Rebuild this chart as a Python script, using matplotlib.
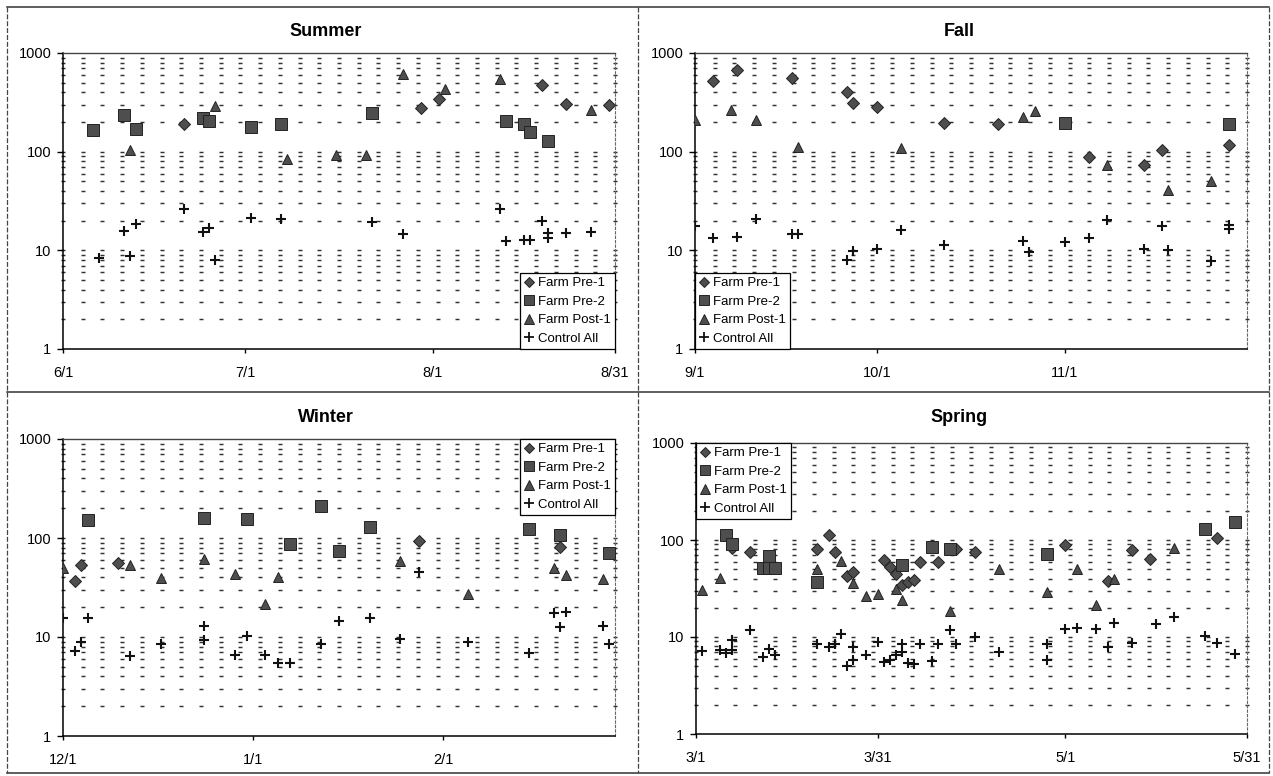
import numpy as np
import matplotlib
matplotlib.use('Agg')
import matplotlib.pyplot as plt
import matplotlib.dates as mdates
import matplotlib.ticker as ticker
from matplotlib.lines import Line2D
from datetime import date

plt.rcParams['font.family'] = ['Liberation Sans', 'DejaVu Sans']

SERIES = ['Farm Pre-1', 'Farm Pre-2', 'Farm Post-1', 'Control All']

# ---- Summer (6/1 - 8/31) ----
summer_pre1_dates = ['6/21', '8/2', '7/30', '8/19', '8/23', '8/30']
summer_pre1_vals = [192, 341, 277, 473, 302, 294]
summer_pre2_dates = ['6/6', '6/11', '6/13', '6/24', '6/25', '7/2', '7/7', '7/22',
                     '8/13', '8/16', '8/17', '8/20']
summer_pre2_vals = [167, 238, 171, 217, 203, 177, 189, 246, 204, 192, 159, 127]
summer_post1_dates = ['6/12', '6/26', '7/8', '7/16', '7/21', '7/27', '8/3', '8/12', '8/27']
summer_post1_vals = [103, 292, 84, 92, 92, 617, 431, 545, 262]
summer_ctrl_dates = ['6/7', '6/11', '6/12', '6/13', '6/21', '6/24', '6/25', '6/26', '7/2',
                     '7/7', '7/22', '7/27', '8/12', '8/13', '8/16', '8/17', '8/19', '8/20',
                     '8/20', '8/23', '8/27']
summer_ctrl_vals = [8.45, 15.8, 8.8, 18.4, 26.1, 15.3, 16.8, 8.07, 21.2,
                    20.7, 19.3, 14.7, 26.4, 12.4, 12.8, 12.8, 19.8, 14.9,
                    13.2, 14.9, 15.2]
summer_ticks = ['6/1', '7/1', '8/1', '8/31']

# ---- Fall (9/1 - 12/1) ----
fall_pre1_dates = ['9/4', '9/8', '9/17', '9/26', '9/27', '10/1', '10/12', '10/21',
                   '11/5', '11/14', '11/17', '11/28']
fall_pre1_vals = [523, 672, 561, 407, 310, 285, 193, 190, 88, 73, 105, 117]
fall_pre2_dates = ['11/1', '11/28']
fall_pre2_vals = [197, 191]
fall_post1_dates = ['9/1', '9/7', '9/11', '9/18', '10/5', '10/25', '10/27', '11/8',
                    '11/18', '11/25']
fall_post1_vals = [210, 263, 210, 111, 108, 225, 257, 74, 41, 50]
fall_ctrl_dates = ['9/1', '9/4', '9/8', '9/11', '9/17', '9/18', '9/26', '9/27', '10/1',
                   '10/5', '10/12', '10/25', '10/26', '11/1', '11/5', '11/8', '11/14',
                   '11/17', '11/18', '11/25', '11/28', '11/28']
fall_ctrl_vals = [17.5, 13.2, 13.7, 21.0, 14.5, 14.5, 8.0, 9.9, 10.4,
                  16.2, 11.4, 12.5, 9.7, 12.1, 13.2, 20.3, 10.4,
                  17.5, 10.0, 7.8, 16.5, 18.0]
fall_ticks = ['9/1', '10/1', '11/1']

# ---- Winter (12/1 - 3/1) ----
winter_pre1_dates = ['12/3', '12/4', '12/10', '1/28', '2/20']
winter_pre1_vals = [37.2, 52.8, 55.7, 93.8, 80.3]
winter_pre2_dates = ['12/5', '12/24', '12/31', '1/7', '1/12', '1/15', '1/20', '2/15',
                     '2/20', '2/28']
winter_pre2_vals = [152, 161, 155, 86.7, 212, 74.3, 130, 122, 107, 71]
winter_post1_dates = ['12/1', '12/12', '12/17', '12/24', '12/29', '1/3', '1/5', '1/25',
                      '2/5', '2/19', '2/21', '2/27']
winter_post1_vals = [49.6, 53.2, 39.6, 61.7, 42.8, 21.6, 40, 58.9, 27.5, 50, 42.2, 38.7]
winter_ctrl_dates = ['12/1', '12/3', '12/4', '12/5', '12/12', '12/17', '12/24', '12/24',
                     '12/29', '12/31', '1/3', '1/5', '1/7', '1/12', '1/15', '1/20', '1/25',
                     '1/28', '2/5', '2/15', '2/19', '2/20', '2/21', '2/27', '2/28']
winter_ctrl_vals = [15.6, 7.18, 8.93, 15.7, 6.5, 8.59, 13.0, 9.28,
                    6.6, 10.3, 6.65, 5.52, 5.52, 8.4, 14.4, 15.4, 9.5,
                    44.9, 8.93, 6.97, 17.3, 12.5, 17.7, 12.9, 8.5]
winter_ticks = ['12/1', '1/1', '2/1']

# ---- Spring (3/1 - 5/31) ----
spring_pre1_dates = ['3/7', '3/10', '3/21', '3/23', '3/24', '3/26', '3/27', '4/1', '4/2',
                     '4/3', '4/4', '4/5', '4/6', '4/7', '4/10', '4/13', '4/16', '5/1',
                     '5/8', '5/12', '5/15', '5/26']
spring_pre1_vals = [82, 74.5, 80.7, 113, 74.5, 42.5, 47, 62, 53,
                    44.5, 34, 37, 39, 58.8, 59.7, 80, 75.7, 88.7,
                    37.9, 78.9, 63.6, 104]
spring_pre2_dates = ['3/6', '3/7', '3/12', '3/13', '3/13', '3/14', '3/21', '4/4', '4/9',
                     '4/12', '4/28', '5/24', '5/29']
spring_pre2_vals = [113, 92, 52, 68, 52, 52, 36.5, 55, 85.3, 81, 71.6, 129, 152]
spring_post1_dates = ['3/2', '3/5', '3/21', '3/25', '3/27', '3/29', '3/31', '4/3', '4/4',
                      '4/12', '4/20', '4/28', '5/3', '5/6', '5/9', '5/19']
spring_post1_vals = [30.4, 40.7, 49.8, 60.7, 35.7, 26.5, 27.6, 31.6, 23.9,
                     18.4, 49.8, 29.3, 49.8, 21.3, 40, 82]
spring_ctrl_dates = ['3/2', '3/5', '3/6', '3/7', '3/7', '3/10', '3/12', '3/13', '3/14',
                     '3/21', '3/23', '3/24', '3/25', '3/26', '3/27', '3/27', '3/29', '3/31',
                     '4/1', '4/2', '4/3', '4/4', '4/4', '4/5', '4/6', '4/7', '4/9', '4/10',
                     '4/12', '4/13', '4/16', '4/20', '4/28', '4/28', '5/1', '5/3', '5/6',
                     '5/8', '5/9', '5/12', '5/16', '5/19', '5/24', '5/26', '5/29']
spring_ctrl_vals = [7.16, 7.3, 6.8, 7.4, 9.4, 11.9, 6.2, 7.6, 6.46,
                    8.4, 7.9, 8.4, 10.7, 4.98, 7.9, 5.8, 6.6, 8.9,
                    5.5, 5.8, 6.6, 8.4, 7.0, 5.4, 5.3, 8.5, 5.65, 8.5,
                    11.9, 8.4, 10, 7.0, 8.4, 5.8, 12.2, 12.5, 12.2,
                    7.9, 14.0, 8.7, 13.5, 16.1, 10.2, 8.7, 6.7]
spring_ticks = ['3/1', '3/31', '5/1', '5/31']

# marker look for each series (filled gray shapes, black crosses)
STYLES = {
    'Farm Pre-1': dict(marker='D', ms=5.8, mfc='#4e4e4e', mec='#222222', mew=0.7),
    'Farm Pre-2': dict(marker='s', ms=8.0, mfc='#4e4e4e', mec='#222222', mew=0.7),
    'Farm Post-1': dict(marker='^', ms=7.8, mfc='#4e4e4e', mec='#222222', mew=0.7),
    'Control All': dict(marker='+', ms=7.8, color='#111111', mew=1.5),
}
LEGEND_STYLES = {
    'Farm Pre-1': dict(STYLES['Farm Pre-1'], ms=5.0),
    'Farm Pre-2': dict(STYLES['Farm Pre-2'], ms=7.0),
    'Farm Post-1': dict(STYLES['Farm Post-1'], ms=7.0),
    'Control All': dict(STYLES['Control All'], ms=7.0, mew=1.3),
}

W, H = 1273, 776
fig = plt.figure(figsize=(W / 100, H / 100), dpi=100)
fig.patch.set_facecolor('white')


def to_num(md, first_year, first_month):
    """'m/d' string -> matplotlib date number; months before the season start roll to next year"""
    m, d = (int(p) for p in md.split('/'))
    year = first_year if m >= first_month else first_year + 1
    return mdates.date2num(date(year, m, d))


def add_axes_px(x0, y0, x1, y1):
    return fig.add_axes([x0 / W, 1 - y1 / H, (x1 - x0) / W, (y1 - y0) / H])


def draw_panel(box, title, title_xy, year, month0, xlim, ticks, series, legend_loc):
    ax = add_axes_px(*box)
    conv = lambda lst: [to_num(s, year, month0) for s in lst]
    x0, x1 = conv(xlim)
    ax.set_xlim(x0, x1)
    ax.set_yscale('log')
    ax.set_ylim(1, 1000)

    # dashed horizontal gridlines: short dashes lined up in columns
    gx = np.linspace(x0, x1, 29)
    gy = [m * 10 ** k for k in range(3) for m in range(1, 10)][1:]
    GX, GY = np.meshgrid(gx, gy)
    ax.plot(GX.ravel(), GY.ravel(), ls='none', marker='_', ms=3.3, mew=1.05,
            color='#333333', zorder=1, clip_on=False)

    for name, (dates, vals) in zip(SERIES, series):
        ax.plot(conv(dates), vals, ls='none', zorder=3, **STYLES[name])

    ax.set_yticks([1, 10, 100, 1000])
    ax.set_yticklabels(['1', '10', '100', '1000'])
    ax.yaxis.set_minor_locator(ticker.NullLocator())
    ax.yaxis.set_minor_formatter(ticker.NullFormatter())
    ax.set_xticks(conv(ticks))
    ax.set_xticklabels(ticks)
    ax.tick_params(axis='y', length=4, width=1, direction='out', pad=4.4, labelsize=10.5)
    ax.tick_params(axis='x', length=3, width=1, direction='out', pad=9.5, labelsize=10.5)

    for side in ('left', 'bottom'):
        ax.spines[side].set_linewidth(1.1)
        ax.spines[side].set_color('black')
    ax.spines['top'].set_color('#444444')
    ax.spines['top'].set_linewidth(1.0)
    ax.spines['right'].set_color('#666666')
    ax.spines['right'].set_linewidth(0.8)
    ax.spines['right'].set_linestyle((0, (2, 2)))

    handles = [Line2D([], [], ls='none', **LEGEND_STYLES[n]) for n in SERIES]
    leg = ax.legend(handles, SERIES, loc=legend_loc, borderaxespad=0, fontsize=9.5,
                    fancybox=False, framealpha=1, edgecolor='black', borderpad=0.3,
                    handlelength=0.8, handletextpad=0.3, labelspacing=0.48)
    leg.get_frame().set_linewidth(0.9)
    leg.set_zorder(5)

    fig.text(title_xy[0] / W, 1 - title_xy[1] / H, title, ha='center', va='center',
             fontsize=13, fontweight='bold')
    return ax


draw_panel((63, 53, 615, 349), 'Summer', (326, 32), 1998, 6, ['6/1', '8/31'], summer_ticks,
           [(summer_pre1_dates, summer_pre1_vals), (summer_pre2_dates, summer_pre2_vals),
            (summer_post1_dates, summer_post1_vals), (summer_ctrl_dates, summer_ctrl_vals)],
           'lower right')
draw_panel((695, 53, 1247, 349), 'Fall', (959, 32), 1998, 9, ['9/1', '12/1'], fall_ticks,
           [(fall_pre1_dates, fall_pre1_vals), (fall_pre2_dates, fall_pre2_vals),
            (fall_post1_dates, fall_post1_vals), (fall_ctrl_dates, fall_ctrl_vals)],
           'lower left')
draw_panel((63, 439, 615, 736), 'Winter', (326, 417), 1998, 12, ['12/1', '3/1'], winter_ticks,
           [(winter_pre1_dates, winter_pre1_vals), (winter_pre2_dates, winter_pre2_vals),
            (winter_post1_dates, winter_post1_vals), (winter_ctrl_dates, winter_ctrl_vals)],
           'upper right')
draw_panel((696, 443, 1247, 734), 'Spring', (959, 417), 1999, 3, ['3/1', '5/31'], spring_ticks,
           [(spring_pre1_dates, spring_pre1_vals), (spring_pre2_dates, spring_pre2_vals),
            (spring_post1_dates, spring_post1_vals), (spring_ctrl_dates, spring_ctrl_vals)],
           'upper left')

# panel frames around the four charts
def frame_line(xa, ya, xb, yb, **kw):
    fig.add_artist(Line2D([xa / W, xb / W], [1 - ya / H, 1 - yb / H],
                          transform=fig.transFigure, **kw))

for y in (7, 392, 773):
    frame_line(7, y, 1269, y, color='#333333', lw=1.1)
for x in (7, 638, 1269):
    frame_line(x, 7, x, 773, color='#444444', lw=0.9, ls=(0, (4, 1.5)))

fig.savefig('out.png', dpi=100, facecolor='white')
